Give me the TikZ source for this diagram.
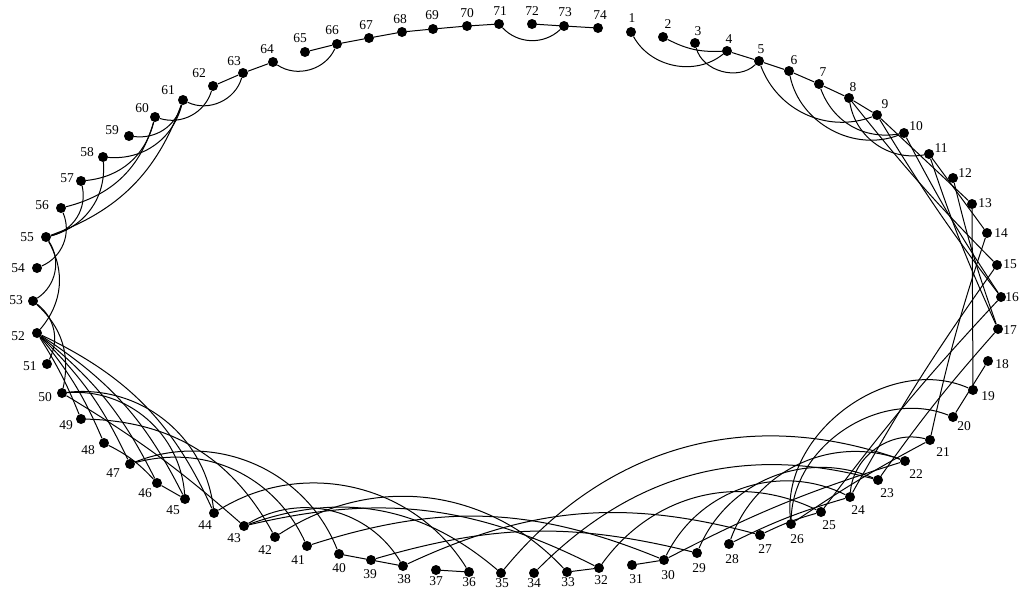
\documentclass[tikz,border=0pt]{standalone}
\usepackage{fontspec}
\setmainfont{Liberation Serif}
\begin{document}
\begin{tikzpicture}[x=1pt,y=-1pt,
  dot/.style={circle,fill=black,inner sep=0pt,minimum size=10pt},
  lab/.style={inner sep=0pt,font=\fontsize{13.5}{14}\selectfont},
  edge/.style={draw=black,line width=1pt}]
\useasboundingbox (0,0) rectangle (1019,590);
\foreach \i/\x/\y/\lx/\ly in {
1/631/32/632/18, 2/663/37/668/24, 3/695/43/698/31, 4/727/51/729/39,
5/759/61/761/49, 6/789/71/794/60, 7/819/84/823/72, 8/849/98/853/87,
9/877/115/885/104, 10/904/133/916/126, 11/929/154/941/148, 12/953/178/965/173,
13/972/204/985/203, 14/987/233/1001/233, 15/997/265/1010/264, 16/1001/297/1012/297,
17/998/329/1010/330, 18/988/361/1002/364, 19/973/390/988/396, 20/953/417/964/426,
21/930/440/943/452, 22/905/461/916/474, 23/878/480/887/493, 24/850/497/858/510,
25/821/512/829/525, 26/791/524/797/539, 27/760/535/765/549, 28/729/544/732/559,
29/697/553/699/568, 30/664/560/668/575, 31/632/565/636/579, 32/599/568/601/580,
33/567/572/568/582, 34/534/573/534/583, 35/501/573/502/583, 36/469/572/469/582,
37/436/570/436/581, 38/403/566/404/579, 39/371/560/370/574, 40/339/554/339/568,
41/307/546/298/560, 42/275/537/265/550, 43/244/526/234/538, 44/214/513/205/525,
45/185/499/173/510, 46/157/483/145/493, 47/130/464/113/473, 48/104/443/88/450,
49/81/419/66/425, 50/62/393/45/397, 51/47/364/30/366, 52/37/333/18/336,
53/33/301/16/300, 54/37/268/18/268, 55/46/237/27/237, 56/61/208/42/205,
57/81/181/67/178, 58/103/157/87/152, 59/129/136/112/130, 60/155/117/142/108,
61/183/100/168/90, 62/213/86/199/73, 63/243/73/234/61, 64/273/62/267/49,
65/305/52/300/38, 66/337/44/332/30, 67/369/38/366/25, 68/402/32/400/19,
69/433/29/432/15, 70/467/26/467/13, 71/499/24/500/11, 72/532/24/532/11,
73/564/26/565/12, 74/598/28/600/15}{
  \node[dot] (n\i) at (\x,\y) {};
  \node[lab] (l\i) at (\lx,\ly) {\i};
}
\foreach \a/\b/\c in {
1/4/50, 2/4/15, 3/5/60, 4/5/0, 5/6/0, 6/7/0, 7/8/0, 8/9/0,
5/9/45, 6/10/50, 7/10/40, 8/11/45,
8/15/3, 9/16/3, 10/16/3, 11/17/3, 12/17/3, 9/13/0, 11/14/0,
13/19/0, 14/21/3, 15/24/3, 16/25/3, 17/23/3, 18/20/0,
19/26/60, 20/26/55, 21/24/50, 22/28/45, 23/29/45, 24/30/45,
21/26/3, 22/30/5, 25/27/5, 24/28/5,
22/35/35, 23/34/30, 25/32/40,
36/44/45, 38/43/45, 35/43/30, 33/42/40, 32/43/20, 40/47/45, 41/47/40,
42/49/30, 43/50/5, 44/50/45, 45/50/45, 30/41/20, 29/39/15, 27/38/20,
36/37/0, 38/39/0, 39/40/0, 32/33/0, 30/31/0, 45/46/0, 46/48/10,
44/52/20, 45/52/15, 46/52/12, 47/52/10, 48/52/8, 49/52/5,
50/53/30, 51/53/40, 52/55/35, 53/55/45, 54/56/45, 55/57/45, 55/58/40,
55/61/25, 56/60/30, 57/60/35, 58/61/40, 59/61/40, 60/62/45, 61/63/50,
62/63/0, 63/64/0, 64/66/50, 65/66/0, 66/67/0, 67/68/0, 68/69/0, 69/70/0,
70/71/0, 71/73/45, 72/73/0, 73/74/0}{
  \draw[edge] (n\a) to[bend right=\c] (n\b);
}
\end{tikzpicture}
\end{document}
